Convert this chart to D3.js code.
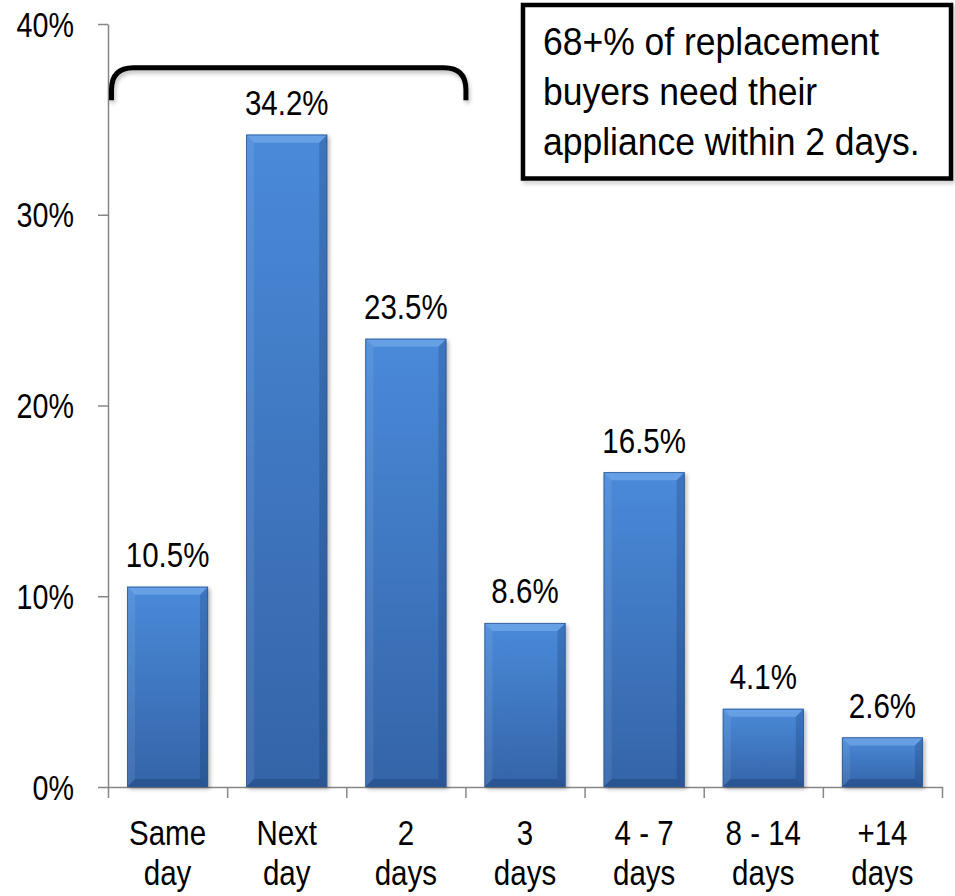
<!DOCTYPE html>
<html>
<head>
<meta charset="utf-8">
<script src="https://cdn.jsdelivr.net/npm/d3@7"></script>
<style>
  html, body { margin: 0; padding: 0; background: #ffffff; }
  svg { display: block; }
  text { font-family: "Liberation Sans", Arial, sans-serif; fill: #000; }
</style>
</head>
<body>
<script>
// ---- data ----
const categories = ["Same day", "Next day", "2 days", "3 days", "4 - 7 days", "8 - 14 days", "+14 days"];
const values = [10.5, 34.2, 23.5, 8.6, 16.5, 4.1, 2.6];
const yTicks = [0, 10, 20, 30, 40];
const noteLines = ["68+% of replacement", "buyers need their", "appliance within 2 days."];
const bracketCats = ["Same day", "2 days"];   // bracket covers these categories
const bracketLevels = [36.0, 37.7];          // leg bottom / top bar of bracket (in %)

// ---- layout ----
const W = 955, H = 896;
const plot = { left: 108, right: 942, top: 24, bottom: 787 };
const narrow = 0.82; // condensed look of the original font

const svg = d3.select("body").append("svg").attr("width", W).attr("height", H);
const defs = svg.append("defs");

const grad = defs.append("linearGradient").attr("id", "barGrad")
  .attr("x1", 0).attr("y1", 0).attr("x2", 0).attr("y2", 1);
grad.append("stop").attr("offset", "0%").attr("stop-color", "#4a8ad9");
grad.append("stop").attr("offset", "100%").attr("stop-color", "#3464a8");

const sh = defs.append("filter").attr("id", "shadow")
  .attr("x", "-20%").attr("y", "-20%").attr("width", "140%").attr("height", "140%");
sh.append("feGaussianBlur").attr("stdDeviation", 2);

const x = d3.scaleBand().domain(categories).range([plot.left, plot.right])
  .paddingInner(0.32).paddingOuter(0.16);
const xb = d3.scaleLinear().domain([0, categories.length]).range([plot.left, plot.right]);
const y = d3.scaleLinear().domain([0, 40]).range([plot.bottom, plot.top]);

const axisColor = "#868686";

// ---- y axis ----
const gy = svg.append("g").attr("transform", `translate(${plot.left},0)`)
  .call(d3.axisLeft(y).tickValues(yTicks).tickSize(10).tickSizeOuter(0).tickFormat(d => d + "%"));
gy.select(".domain").attr("stroke", axisColor).attr("stroke-width", 1.5);
gy.selectAll(".tick line").attr("stroke", axisColor).attr("stroke-width", 1.5);
gy.selectAll(".tick text").remove();
gy.selectAll(".tick").append("text")
  .attr("transform", `translate(-34,12) scale(${narrow},1)`)
  .attr("text-anchor", "end")
  .style("font-size", "35px")
  .text(d => d + "%");

// ---- x axis ----
const gx = svg.append("g").attr("transform", `translate(0,${plot.bottom})`)
  .call(d3.axisBottom(xb).tickValues(d3.range(0, categories.length + 1)).tickSize(11).tickSizeOuter(0).tickFormat(""));
gx.select(".domain").attr("stroke", axisColor).attr("stroke-width", 1.5);
gx.selectAll(".tick line").attr("stroke", axisColor).attr("stroke-width", 1.5);

// ---- bars ----
const bw = x.bandwidth();
const bev = 8;
const bars = svg.append("g").selectAll("g.bar").data(categories.map((c, i) => ({ c, v: values[i] })))
  .join("g").attr("class", "bar");

bars.append("rect")
  .attr("x", d => x(d.c) + 2).attr("y", d => y(d.v) + 2)
  .attr("width", bw).attr("height", d => y(0) - y(d.v))
  .attr("fill", "#000").attr("opacity", 0.3).attr("filter", "url(#shadow)");

bars.append("rect")
  .attr("x", d => x(d.c)).attr("y", d => y(d.v))
  .attr("width", bw).attr("height", d => y(0) - y(d.v))
  .attr("fill", "url(#barGrad)");

function poly(pts) { return "M" + pts.map(p => p.join(",")).join("L") + "Z"; }
// top bevel
bars.append("path").attr("d", d => {
  const x0 = x(d.c), y0 = y(d.v), x1 = x0 + bw;
  return poly([[x0, y0], [x1, y0], [x1 - bev, y0 + bev], [x0 + bev, y0 + bev]]);
}).attr("fill", "#7fb2ee").attr("opacity", 0.55);
// left bevel
bars.append("path").attr("d", d => {
  const x0 = x(d.c), y0 = y(d.v), y1 = y(0);
  return poly([[x0, y0], [x0 + bev, y0 + bev], [x0 + bev, y1 - bev], [x0, y1]]);
}).attr("fill", "#ffffff").attr("opacity", 0.08);
// right bevel
bars.append("path").attr("d", d => {
  const x1 = x(d.c) + bw, y0 = y(d.v), y1 = y(0);
  return poly([[x1, y0], [x1 - bev, y0 + bev], [x1 - bev, y1 - bev], [x1, y1]]);
}).attr("fill", "#0c2550").attr("opacity", 0.2);
// bottom bevel
bars.append("path").attr("d", d => {
  const x0 = x(d.c), x1 = x0 + bw, y1 = y(0);
  return poly([[x0, y1], [x0 + bev, y1 - bev], [x1 - bev, y1 - bev], [x1, y1]]);
}).attr("fill", "#0c2550").attr("opacity", 0.25);
bars.append("rect")
  .attr("x", d => x(d.c) + 0.4).attr("y", d => y(d.v) + 0.4)
  .attr("width", bw - 0.8).attr("height", d => y(0) - y(d.v) - 0.8)
  .attr("fill", "none").attr("stroke", "#2d5a98").attr("stroke-width", 0.8);

// value labels
bars.append("text")
  .attr("transform", d => `translate(${x(d.c) + bw / 2},${y(d.v) - 19.5}) scale(${narrow},1)`)
  .attr("text-anchor", "middle")
  .style("font-size", "36px")
  .text(d => d.v.toFixed(1) + "%");

// category labels
const cl = svg.append("g").selectAll("g").data(categories).join("g");
cl.each(function (c) {
  const k = c.lastIndexOf(" ");
  const lines = [c.slice(0, k), c.slice(k + 1)];
  d3.select(this).selectAll("text").data(lines).join("text")
    .attr("transform", (t, i) => `translate(${x(c) + bw / 2},${845 + i * 40}) scale(${narrow},1)`)
    .attr("text-anchor", "middle")
    .style("font-size", "36px")
    .text(t => t);
});

// ---- bracket annotation ----
const bx0 = xb(categories.indexOf(bracketCats[0])) + 3.5;
const bx1 = xb(categories.indexOf(bracketCats[1]) + 1) + 0.5;
const by0 = y(bracketLevels[0]), by1 = y(bracketLevels[1]);
const r = 22;
const bracketPath = `M${bx0},${by0} L${bx0},${by1 + r} Q${bx0},${by1} ${bx0 + r},${by1} L${bx1 - r},${by1} Q${bx1},${by1} ${bx1},${by1 + r} L${bx1},${by0}`;
svg.append("path").attr("d", bracketPath).attr("transform", "translate(1.5,3)")
  .attr("fill", "none").attr("stroke", "#000").attr("stroke-width", 5).attr("opacity", 0.25)
  .attr("filter", "url(#shadow)");
svg.append("path").attr("d", bracketPath)
  .attr("fill", "none").attr("stroke", "#000").attr("stroke-width", 5);

// ---- note box ----
const box = { x: 523, y: 5, w: 428, h: 173.5 };
svg.append("rect").attr("x", box.x + 2).attr("y", box.y + 3).attr("width", box.w).attr("height", box.h)
  .attr("fill", "none").attr("stroke", "#000").attr("stroke-width", 4.5).attr("opacity", 0.2)
  .attr("filter", "url(#shadow)");
svg.append("rect").attr("x", box.x).attr("y", box.y).attr("width", box.w).attr("height", box.h)
  .attr("fill", "#fff").attr("stroke", "#000").attr("stroke-width", 4.5);
svg.append("g").selectAll("text").data(noteLines).join("text")
  .attr("transform", (t, i) => `translate(543,${55 + i * 50}) scale(0.91,1)`)
  .attr("text-anchor", "start")
  .style("font-size", "39px")
  .text(t => t);
</script>
</body>
</html>
